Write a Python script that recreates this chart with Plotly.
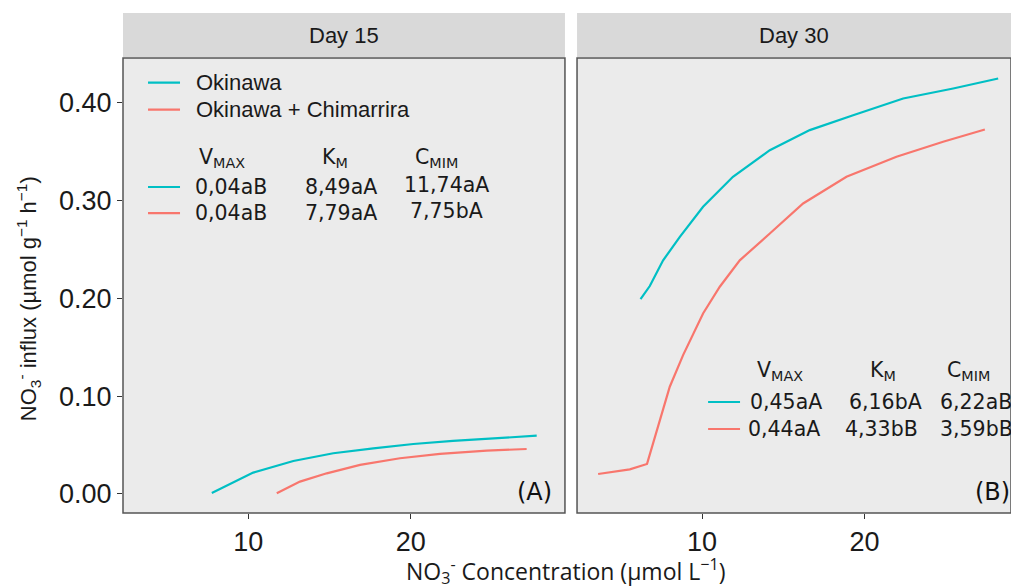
import plotly.graph_objects as go

# ---------------- data ----------------
series_names = ["Okinawa", "Okinawa + Chimarrira"]
colors = ["#00BFC4", "#F8766D"]

# Day 15
d15_oki_x = [7.75, 10.3, 12.77, 15.23, 17.7, 20.16, 22.6, 25.1, 27.76]
d15_oki_y = [0.001, 0.0218, 0.0337, 0.0416, 0.0467, 0.0511, 0.0542, 0.057, 0.0596]
d15_chi_x = [11.75, 13.18, 14.83, 16.88, 19.34, 21.8, 24.68, 27.14]
d15_chi_y = [0.0007, 0.0126, 0.0211, 0.0297, 0.0365, 0.0409, 0.0443, 0.046]

# Day 30
d30_oki_x = [6.21, 6.78, 7.6, 8.63, 10.06, 11.9, 14.17, 16.63, 19.3, 22.38, 25.46, 28.23]
d30_oki_y = [0.1994, 0.2127, 0.239, 0.263, 0.2938, 0.3245, 0.3517, 0.3722, 0.3875, 0.4046, 0.4148, 0.425]
d30_chi_x = [3.6, 5.55, 6.61, 8.01, 8.83, 10.06, 11.09, 12.32, 14.17, 16.22, 18.89, 21.97, 24.84, 27.41]
d30_chi_y = [0.0204, 0.0252, 0.0307, 0.1097, 0.142, 0.1847, 0.212, 0.239, 0.2665, 0.2972, 0.3245, 0.345, 0.3603, 0.3729]

panel_titles = ["Day 15", "Day 30"]
panel_tags = ["(A)", "(B)"]
stat_headers = ["V<sub>MAX</sub>", "K<sub>M</sub>", "C<sub>MIM</sub>"]
d15_stats = [["0,04aB", "8,49aA", "11,74aA"], ["0,04aB", "7,79aA", "7,75bA"]]
d30_stats = [["0,45aA", "6,16bA", "6,22aB"], ["0,44aA", "4,33bB", "3,59bB"]]

x_ticks = [10, 20]
y_ticks = [0.0, 0.1, 0.2, 0.3, 0.4]
y_ticklabels = ["0.00", "0.10", "0.20", "0.30", "0.40"]

# ---------------- figure ----------------
fig = go.Figure()
LW = 2.2
fig.add_trace(go.Scatter(x=d15_oki_x, y=d15_oki_y, mode="lines", name=series_names[0],
                         line=dict(color=colors[0], width=LW), xaxis="x", yaxis="y"))
fig.add_trace(go.Scatter(x=d15_chi_x, y=d15_chi_y, mode="lines", name=series_names[1],
                         line=dict(color=colors[1], width=LW), xaxis="x", yaxis="y"))
fig.add_trace(go.Scatter(x=d30_oki_x, y=d30_oki_y, mode="lines", name=series_names[0],
                         line=dict(color=colors[0], width=LW), xaxis="x2", yaxis="y2"))
fig.add_trace(go.Scatter(x=d30_chi_x, y=d30_chi_y, mode="lines", name=series_names[1],
                         line=dict(color=colors[1], width=LW), xaxis="x2", yaxis="y2"))

TICKFONT = dict(family="Liberation Sans, Arial", size=27, color="#1a1a1a")
axis_common = dict(showgrid=False, zeroline=False, ticks="outside", ticklen=5, tickwidth=1.2,
                   tickcolor="#333333", tickfont=TICKFONT, showline=False)

yr = [-0.0195, 0.446]
fig.update_layout(
    width=1011, height=586,
    margin=dict(l=123, r=0, t=58, b=73),
    paper_bgcolor="white", plot_bgcolor="#EBEBEB",
    xaxis=dict(domain=[0, 0.4977], range=[2.28, 29.5], tickvals=x_ticks, anchor="y", **axis_common),
    xaxis2=dict(domain=[0.5113, 1], range=[2.30, 29.02], tickvals=x_ticks, anchor="y2", **axis_common),
    yaxis=dict(domain=[0, 1], range=yr, tickvals=y_ticks, ticktext=y_ticklabels, anchor="x", **axis_common),
    yaxis2=dict(domain=[0, 1], range=yr, tickvals=y_ticks, anchor="x2", matches="y",
                showgrid=False, zeroline=False, showticklabels=False, ticks=""),
    showlegend=False,
)

shapes = []
annotations = []
panels = [("x", "y"), ("x2", "y2")]
for i, (xa, ya) in enumerate(panels):
    shapes.append(dict(type="rect", xref=f"{xa} domain", yref=f"{ya} domain", x0=0, x1=1, y0=0, y1=1,
                       line=dict(color="#555555", width=1.5), fillcolor="rgba(0,0,0,0)", layer="above"))
    shapes.append(dict(type="rect", xref=f"{xa} domain", yref="paper", x0=0, x1=1, y0=1.0022, y1=1.0989,
                       line=dict(width=0), fillcolor="#D9D9D9", layer="below"))
    annotations.append(dict(text=panel_titles[i], xref=f"{xa} domain", yref="paper", x=0.5, y=1.0505,
                            showarrow=False, xanchor="center", yanchor="middle",
                            font=dict(family="Liberation Sans, Arial", size=22, color="#1a1a1a")))

# legend (drawn inside Day 15 panel)
LEGFONT = dict(family="Liberation Sans, Arial", size=22, color="#1a1a1a")
leg_ys = [0.946, 0.8865]
for k in range(2):
    shapes.append(dict(type="line", xref="x domain", yref="y domain", x0=0.0566, x1=0.129,
                       y0=leg_ys[k], y1=leg_ys[k], line=dict(color=colors[k], width=LW)))
    annotations.append(dict(text=series_names[k], xref="x domain", yref="y domain", x=0.1606, y=leg_ys[k],
                            showarrow=False, xanchor="left", yanchor="middle", font=LEGFONT))

STATFONT = dict(family="DejaVu Sans", size=20.5, color="#1a1a1a")
tables = [
    ("x", "y", 0.781, [0.7165, 0.659], [0.167, 0.446, 0.656],
     [[0.158, 0.407, 0.631], [0.158, 0.407, 0.645]], [0.7215, 0.663], 0.0566, 0.129, d15_stats),
    ("x2", "y2", 0.312, [0.244, 0.1846], [0.41, 0.6705, 0.848],
     [[0.394, 0.622, 0.832], [0.390, 0.613, 0.832]], [0.244, 0.1846], 0.302, 0.3756, d30_stats),
]
for xa, ya, hy, rys, hxs, rxs, ry_adj, lx0, lx1, stats in tables:
    for j, h in enumerate(stat_headers):
        annotations.append(dict(text=h, xref=f"{xa} domain", yref=f"{ya} domain", x=hxs[j], y=hy,
                                showarrow=False, xanchor="left", yanchor="middle", font=STATFONT))
    for r in range(2):
        for j in range(3):
            yy = rys[r]
            if xa == "x" and j == 2:
                yy = ry_adj[r]
            annotations.append(dict(text=stats[r][j], xref=f"{xa} domain", yref=f"{ya} domain",
                                    x=rxs[r][j], y=yy, showarrow=False, xanchor="left", yanchor="middle",
                                    font=STATFONT))
        shapes.append(dict(type="line", xref=f"{xa} domain", yref=f"{ya} domain", x0=lx0, x1=lx1,
                           y0=rys[r], y1=rys[r], line=dict(color=colors[r], width=LW)))

TAGFONT = dict(family="DejaVu Sans", size=24, color="#111111")
annotations.append(dict(text=panel_tags[0], xref="x domain", yref="y domain", x=0.886, y=0.046,
                        showarrow=False, xanchor="left", yanchor="middle", font=TAGFONT))
annotations.append(dict(text=panel_tags[1], xref="x2 domain", yref="y2 domain", x=0.912, y=0.046,
                        showarrow=False, xanchor="left", yanchor="middle", font=TAGFONT))

# axis titles
annotations.append(dict(text="NO<sub>3</sub><sup>-</sup> Concentration (µmol L<sup>−1</sup>)",
                        xref="paper", yref="paper", x=(565 - 123) / 888, y=-0.128,
                        showarrow=False, xanchor="center", yanchor="middle",
                        font=dict(family="Open Sans", size=23, color="#1a1a1a")))
annotations.append(dict(text="NO<sub>3</sub><sup>-</sup> influx (µmol g<sup>−1</sup> h<sup>−1</sup>)",
                        xref="paper", yref="paper", x=-95 / 888, y=0.47, textangle=-90,
                        showarrow=False, xanchor="center", yanchor="middle",
                        font=dict(family="Liberation Sans, Arial", size=22, color="#1a1a1a")))

fig.update_layout(shapes=shapes, annotations=annotations)
fig.write_html("out.html")
